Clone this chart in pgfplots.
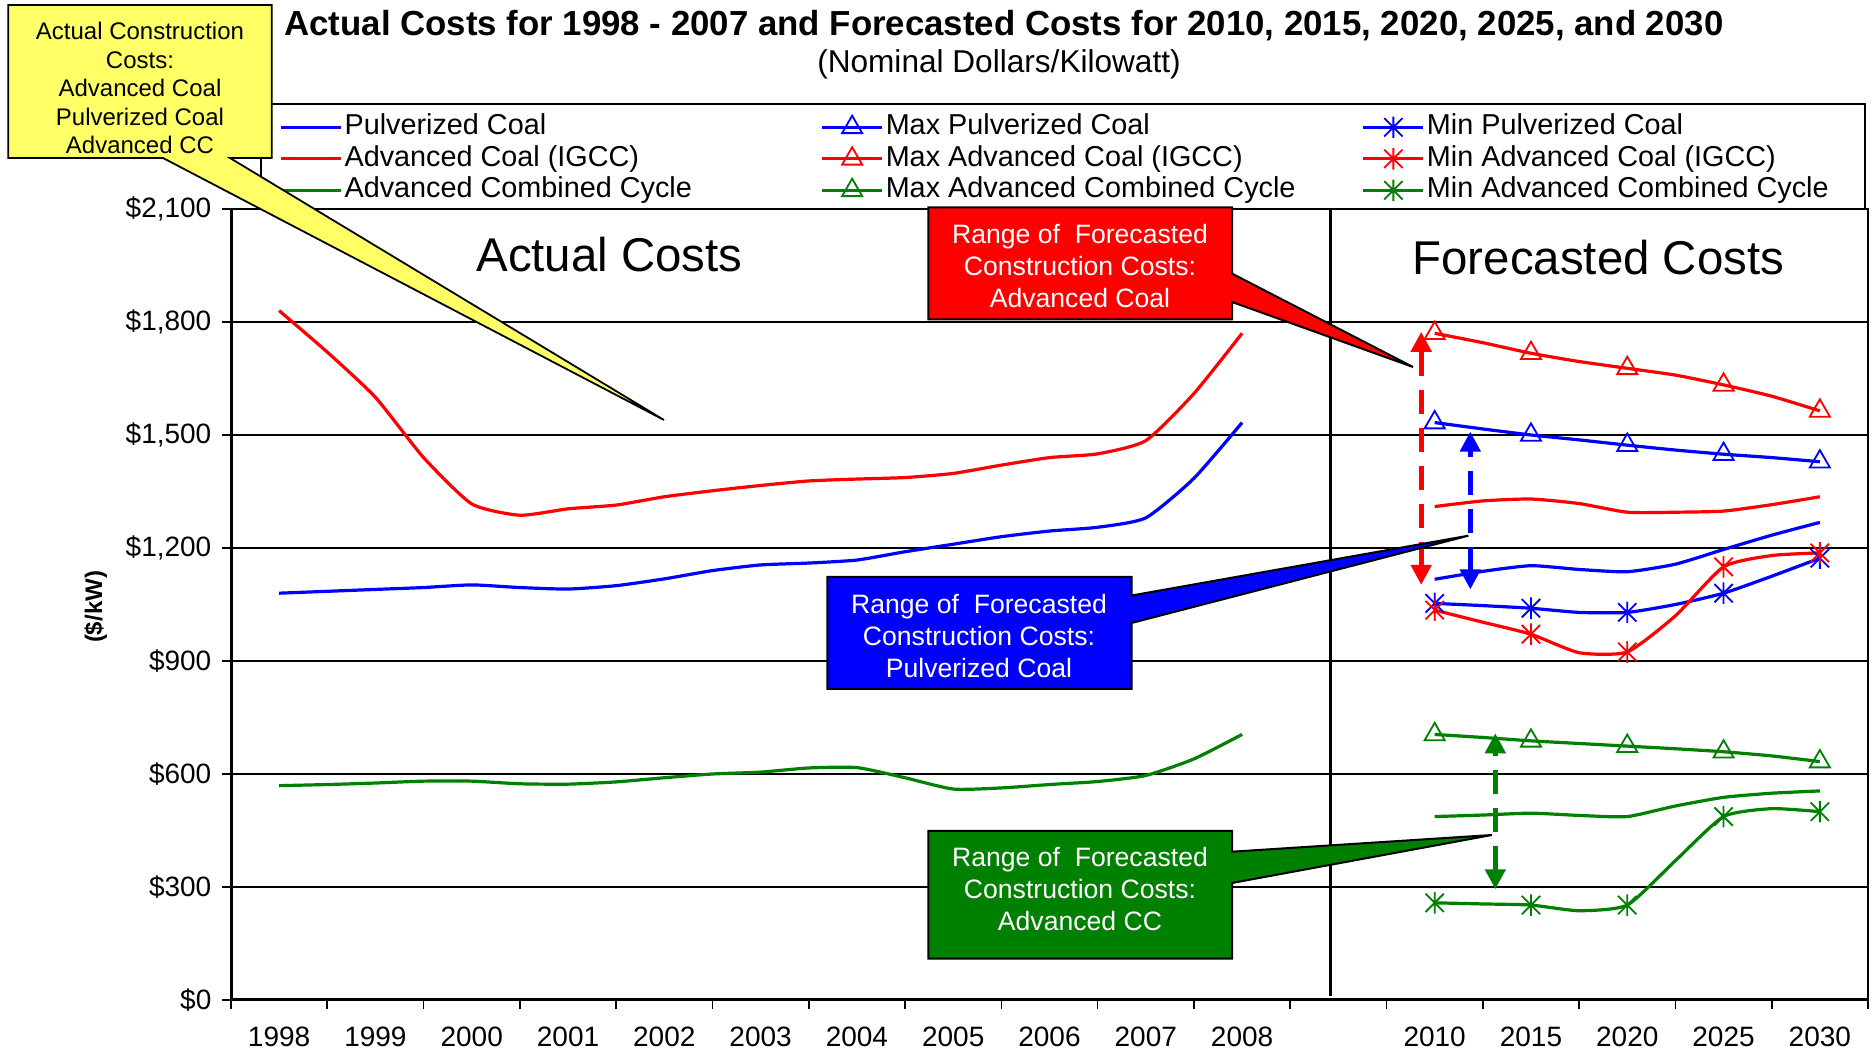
\documentclass[border=0pt]{standalone}
\usepackage{pgfplots}
\pgfplotsset{compat=1.18}
\usepackage{fontspec}
\setmainfont{Liberation Sans}
\usetikzlibrary{arrows.meta}

\definecolor{xlred}{RGB}{255,0,0}
\definecolor{xlblue}{RGB}{0,0,255}
\definecolor{xlgreen}{RGB}{0,128,0}
\definecolor{xlyellow}{RGB}{255,255,102}

\pgfdeclareplotmark{xstar}{%
  \pgfpathmoveto{\pgfqpoint{0pt}{-\pgfplotmarksize}}\pgfpathlineto{\pgfqpoint{0pt}{\pgfplotmarksize}}%
  \pgfpathmoveto{\pgfqpoint{-0.85\pgfplotmarksize}{-0.85\pgfplotmarksize}}\pgfpathlineto{\pgfqpoint{0.85\pgfplotmarksize}{0.85\pgfplotmarksize}}%
  \pgfpathmoveto{\pgfqpoint{-0.85\pgfplotmarksize}{0.85\pgfplotmarksize}}\pgfpathlineto{\pgfqpoint{0.85\pgfplotmarksize}{-0.85\pgfplotmarksize}}%
  \pgfusepathqstroke}

\pgfplotsset{
  maxstyle/.style={line width=1.6pt, smooth, tension=0.35, mark=triangle, mark repeat=2, mark size=5.8pt, mark options={solid, line width=0.9pt, fill=none}},
  minstyle/.style={line width=1.6pt, smooth, tension=0.35, mark=xstar, mark repeat=2, mark size=5.4pt, mark options={solid, line width=0.9pt}},
  midstyle/.style={line width=1.6pt, smooth, tension=0.35, no marks},
}

\newcommand{\LE}[1]{\makebox[237pt][l]{#1}}

\begin{document}
\begin{tikzpicture}
\begin{axis}[
  at={(0pt,0pt)}, anchor=south west,
  scale only axis, width=818.5pt, height=395.5pt,
  xmin=-0.5, xmax=16.5, ymin=0, ymax=2100,
  ytick={0,300,...,2100},
  yticklabel={\$\pgfmathprintnumber{\tick}},
  yticklabel style={xshift=-1.8pt},
  /pgf/number format/1000 sep={,},
  /pgf/number format/assume math mode=true,
  scaled y ticks=false,
  xtick={-0.5,0.5,...,16.5},
  xticklabel={\mbox{}},
  extra x ticks={0,1,...,16},
  extra x tick labels={1998,1999,2000,2001,2002,2003,2004,2005,2006,2007,2008,{},2010,2015,2020,2025,2030},
  extra x tick style={major tick length=0pt, grid=none, xticklabel style={yshift=-9.8pt}},
  tick align=outside, tick pos=left,
  major tick length=4.5pt,
  ymajorgrids, grid style={black, line width=0.6pt},
  axis line style={line width=0.8pt},
  tick style={black, line width=0.8pt},
  ticklabel style={font=\fontsize{14}{16}\selectfont},
  legend columns=3,
  legend cell align=left,
  legend style={draw=none, fill=none, at={(rel axis cs:0.0293,1.0035)}, anchor=south west,
    font=\fontsize{14.4}{16}\selectfont, inner sep=0pt, row sep=0.25pt,
    nodes={inner sep=1pt, text height=10.5pt, text depth=3pt}},
  legend image code/.code={\draw[mark repeat=2,mark phase=2] plot coordinates {(0pt,0pt) (15pt,0pt) (30pt,0pt)};},
  unbounded coords=jump,
]
% Pulverized Coal (actual + forecast)
\addplot[xlblue, midstyle] coordinates {
(0,1080) (0.5,1085) (1,1090) (1.5,1095) (2,1102) (2.5,1095) (3,1091) (3.5,1100) (4,1118) (4.5,1140)
(5,1155) (5.5,1160) (6,1168) (6.5,1190) (7,1210) (7.5,1230) (8,1245) (8.5,1255) (9,1280) (9.5,1385) (10,1533)
(11,nan)
(12,1117) (12.5,1138) (13,1153) (13.5,1143) (14,1137) (14.5,1157) (15,1196) (15.5,1234) (16,1268)};
\addlegendentry{\LE{Pulverized Coal}}
\addplot[xlblue, maxstyle] coordinates {
(12,1533) (12.5,1516) (13,1500) (13.5,1487) (14,1473) (14.5,1460) (15,1449) (15.5,1440) (16,1429)};
\addlegendentry{\LE{Max Pulverized Coal}}
\addplot[xlblue, minstyle] coordinates {
(12,1053) (12.5,1047) (13,1040) (13.5,1029) (14,1029) (14.5,1050) (15,1080) (15.5,1125) (16,1173)};
\addlegendentry{Min Pulverized Coal}
% Advanced Coal
\addplot[xlred, midstyle] coordinates {
(0,1830) (0.5,1720) (1,1600) (1.5,1440) (2,1317) (2.5,1287) (3,1304) (3.5,1314) (4,1336) (4.5,1352)
(5,1366) (5.5,1378) (6,1383) (6.5,1387) (7,1398) (7.5,1420) (8,1440) (8.5,1450) (9,1485) (9.5,1610) (10,1770)
(11,nan)
(12,1310) (12.5,1325) (13,1330) (13.5,1318) (14,1295) (14.5,1295) (15,1298) (15.5,1315) (16,1336)};
\addlegendentry{\LE{Advanced Coal (IGCC)}}
\addplot[xlred, maxstyle] coordinates {
(12,1770) (12.5,1745) (13,1717) (13.5,1695) (14,1677) (14.5,1659) (15,1633) (15.5,1603) (16,1564)};
\addlegendentry{\LE{Max Advanced Coal (IGCC)}}
\addplot[xlred, minstyle] coordinates {
(12,1035) (12.5,1003) (13,971) (13.5,922) (14,924) (14.5,1020) (15,1150) (15.5,1180) (16,1187)};
\addlegendentry{Min Advanced Coal (IGCC)}
% Advanced Combined Cycle
\addplot[xlgreen, midstyle] coordinates {
(0,569) (0.5,572) (1,576) (1.5,581) (2,581) (2.5,574) (3,573) (3.5,579) (4,590) (4.5,600)
(5,605) (5.5,616) (6,617) (6.5,590) (7,560) (7.5,563) (8,572) (8.5,580) (9,596) (9.5,640) (10,705)
(11,nan)
(12,487) (12.5,491) (13,496) (13.5,490) (14,487) (14.5,515) (15,538) (15.5,549) (16,555)};
\addlegendentry{\LE{Advanced Combined Cycle}}
\addplot[xlgreen, maxstyle] coordinates {
(12,705) (12.5,697) (13,688) (13.5,681) (14,674) (14.5,667) (15,659) (15.5,648) (16,633)};
\addlegendentry{\LE{Max Advanced Combined Cycle}}
\addplot[xlgreen, minstyle] coordinates {
(12,258) (12.5,255) (13,252) (13.5,237) (14,252) (14.5,370) (15,487) (15.5,508) (16,500)};
\addlegendentry{Min Advanced Combined Cycle}

% divider, thick axes
\draw[black, line width=1.2pt] (axis cs:10.92,10) -- (axis cs:10.92,2100);
\draw[black, line width=1.6pt] (rel axis cs:0,1) -- (rel axis cs:0,0) -- (rel axis cs:1,0);

% range arrows
\draw[xlred, line width=2.4pt, dash pattern=on 12pt off 7pt, {Triangle[width=10pt,length=10pt]}-{Triangle[width=10pt,length=10pt]}] (axis cs:11.86,1102) -- (axis cs:11.86,1774);
\draw[xlblue, line width=2.4pt, dash pattern=on 12pt off 7pt, {Triangle[width=10pt,length=10pt]}-{Triangle[width=10pt,length=10pt]}] (axis cs:12.37,1090) -- (axis cs:12.37,1509);
\draw[xlgreen, line width=2.4pt, dash pattern=on 12pt off 7pt, {Triangle[width=10pt,length=10pt]}-{Triangle[width=10pt,length=10pt]}] (axis cs:12.63,294) -- (axis cs:12.63,708);

\node[font=\fontsize{23.7}{28}\selectfont] at (axis cs:3.43,1978) {Actual Costs};
\node[font=\fontsize{23.7}{28}\selectfont] at (axis cs:13.7,1972) {Forecasted Costs};
\end{axis}

% legend frame
\draw[black, line width=0.8pt] (15pt,395.5pt) rectangle (817pt,448pt);

% titles
\node[font=\bfseries\fontsize{17.4}{20}\selectfont] at (386.5pt,487.4pt) {Actual Costs for 1998 - 2007 and Forecasted Costs for 2010, 2015, 2020, 2025, and 2030};
\node[font=\fontsize{15.8}{18}\selectfont] at (384pt,467.7pt) {(Nominal Dollars/Kilowatt)};
\node[rotate=90, font=\bfseries\fontsize{12}{14}\selectfont] at (-67.7pt,196.5pt) {(\$/kW)};

% yellow callout
\filldraw[fill=xlyellow, draw=black, line width=0.9pt] (-111.35pt,497.5pt) -- (20.35pt,497.5pt) -- (20.35pt,421pt) -- (-0.5pt,421pt) -- (216.5pt,290pt) -- (-34pt,421pt) -- (-111.35pt,421pt) -- cycle;
\node[align=center, font=\fontsize{12}{14.2}\selectfont] at (-45.5pt,455.9pt) {Actual Construction\\Costs:\\Advanced Coal\\Pulverized Coal\\Advanced CC};

% red callout
\filldraw[fill=xlred, draw=black, line width=1pt] (348.7pt,396.25pt) -- (500.5pt,396.25pt) -- (500.5pt,363.2pt) -- (591pt,316.5pt) -- (500.5pt,349pt) -- (500.5pt,340.3pt) -- (348.7pt,340.3pt) -- cycle;
\node[white, align=center, font=\fontsize{13.3}{16}\selectfont] at (424.5pt,366.9pt) {Range of \ Forecasted\\Construction Costs:\\Advanced Coal};

% blue callout
\filldraw[fill=xlblue, draw=black, line width=1pt] (298.2pt,211.5pt) -- (450.3pt,211.5pt) -- (450.3pt,202.25pt) -- (618.7pt,232.15pt) -- (450.3pt,188.5pt) -- (450.3pt,155.5pt) -- (298.2pt,155.5pt) -- cycle;
\node[white, align=center, font=\fontsize{13.3}{16}\selectfont] at (374pt,182pt) {Range of \ Forecasted\\Construction Costs:\\Pulverized Coal};

% green callout
\filldraw[fill=xlgreen, draw=black, line width=1pt] (348.7pt,84.6pt) -- (500.5pt,84.6pt) -- (500.5pt,74.15pt) -- (630.5pt,82.5pt) -- (500.5pt,58.5pt) -- (500.5pt,20.65pt) -- (348.7pt,20.65pt) -- cycle;
\node[white, align=center, font=\fontsize{13.3}{16}\selectfont] at (424.5pt,55.5pt) {Range of \ Forecasted\\Construction Costs:\\Advanced CC};

\path (-115.5pt,-26.5pt) rectangle (822pt,500pt);
\end{tikzpicture}
\end{document}
